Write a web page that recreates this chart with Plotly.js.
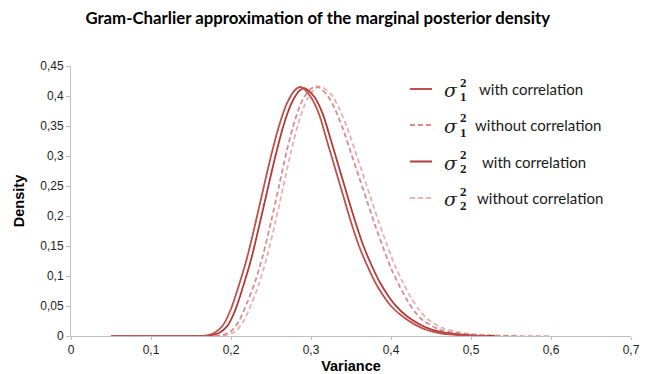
<!DOCTYPE html>
<html>
<head>
<meta charset="utf-8">
<script src="https://cdn.plot.ly/plotly-3.0.1.min.js"></script>
<style>html,body{margin:0;padding:0;background:#fff;}#chart{width:651px;height:374px;}</style>
</head>
<body>
<div id="chart"></div>
<script>
// Data
var s1WithX = [0.05, 0.10, 0.15, 0.165, 0.17, 0.18, 0.19, 0.20, 0.21, 0.22, 0.23, 0.24, 0.25, 0.26, 0.27, 0.28, 0.286, 0.29, 0.30, 0.31, 0.32, 0.33, 0.34, 0.35, 0.36, 0.37, 0.38, 0.39, 0.40, 0.415, 0.43, 0.445, 0.46, 0.48, 0.50, 0.52];
var s1WithY = [0, 0, 0, 0, 0.001, 0.006, 0.018, 0.045, 0.085, 0.13, 0.185, 0.243, 0.30, 0.35, 0.388, 0.41, 0.415, 0.413, 0.398, 0.37, 0.325, 0.28, 0.235, 0.19, 0.15, 0.118, 0.09, 0.068, 0.05, 0.032, 0.019, 0.01, 0.005, 0.002, 0.0005, 0];

var s2WithX = [0.05, 0.10, 0.15, 0.17, 0.175, 0.185, 0.195, 0.205, 0.215, 0.225, 0.235, 0.245, 0.255, 0.265, 0.275, 0.285, 0.291, 0.295, 0.305, 0.315, 0.325, 0.335, 0.345, 0.355, 0.365, 0.375, 0.385, 0.395, 0.405, 0.42, 0.435, 0.45, 0.465, 0.485, 0.505, 0.53];
var s2WithY = [0, 0, 0, 0, 0.001, 0.005, 0.016, 0.042, 0.082, 0.127, 0.182, 0.24, 0.297, 0.348, 0.386, 0.408, 0.413, 0.411, 0.397, 0.369, 0.326, 0.281, 0.236, 0.192, 0.152, 0.12, 0.092, 0.07, 0.052, 0.033, 0.02, 0.011, 0.006, 0.0025, 0.0007, 0];

var s1WithoutX = [0.05, 0.10, 0.15, 0.18, 0.19, 0.20, 0.21, 0.22, 0.23, 0.24, 0.25, 0.26, 0.27, 0.28, 0.29, 0.30, 0.306, 0.31, 0.32, 0.33, 0.34, 0.35, 0.36, 0.37, 0.38, 0.39, 0.40, 0.41, 0.42, 0.43, 0.44, 0.46, 0.48, 0.50, 0.53, 0.56];
var s1WithoutY = [0, 0, 0, 0, 0.002, 0.008, 0.025, 0.055, 0.09, 0.135, 0.19, 0.25, 0.31, 0.36, 0.395, 0.412, 0.416, 0.414, 0.402, 0.378, 0.345, 0.305, 0.265, 0.225, 0.185, 0.148, 0.113, 0.085, 0.06, 0.04, 0.026, 0.011, 0.005, 0.002, 0.0005, 0];

var s2WithoutX = [0.05, 0.10, 0.15, 0.185, 0.195, 0.205, 0.215, 0.225, 0.235, 0.245, 0.255, 0.265, 0.275, 0.285, 0.295, 0.305, 0.311, 0.315, 0.325, 0.335, 0.345, 0.355, 0.365, 0.375, 0.385, 0.395, 0.405, 0.415, 0.425, 0.435, 0.445, 0.465, 0.49, 0.52, 0.56, 0.60];
var s2WithoutY = [0, 0, 0, 0, 0.002, 0.007, 0.023, 0.052, 0.087, 0.132, 0.187, 0.247, 0.307, 0.358, 0.394, 0.412, 0.416, 0.414, 0.403, 0.38, 0.348, 0.309, 0.269, 0.229, 0.189, 0.152, 0.117, 0.089, 0.064, 0.044, 0.029, 0.013, 0.005, 0.0015, 0.0003, 0];

var legendSubs = ["1", "1", "2", "2"];
var legendTexts = ["with correlation", "without correlation", "with correlation", "without correlation"];

var colS1W = "#c0504d", colS2W = "#b03c3a", colS1WO = "#d98c8b", colS2WO = "#e8b0b0";
var colors = [colS1W, colS1WO, colS2W, colS2WO];
var dashes = ["solid", "5px,3px", "solid", "5px,3px"];

function tr(x, y, c, d) {
  return {x: x, y: y, type: "scatter", mode: "lines", showlegend: false, hoverinfo: "skip",
    line: {color: c, width: 1.8, dash: d, shape: "spline", smoothing: 0.8}};
}
var data = [
  tr(s2WithoutX, s2WithoutY, colS2WO, "5px,3px"),
  tr(s1WithoutX, s1WithoutY, colS1WO, "5px,3px"),
  tr(s2WithX, s2WithY, colS2W, "solid"),
  tr(s1WithX, s1WithY, colS1W, "solid")
];

// custom legend
var L = 71, R = 631, T = 66, B = 336;
function px(x) { return (x - L) / (R - L); }
function py(y) { return (B - y) / (B - T); }
var rowY = [89, 125, 161.5, 198];
var textX = [477, 473, 480, 475];
var shapes = [], annotations = [];
for (var i = 0; i < 4; i++) {
  shapes.push({type: "line", xref: "paper", yref: "paper", x0: px(410), x1: px(432), y0: py(rowY[i]), y1: py(rowY[i]),
    line: {color: colors[i], width: 2, dash: dashes[i]}});
  annotations.push({xref: "paper", yref: "paper", x: px(451), y: py(rowY[i] + 1), xanchor: "center", yanchor: "middle",
    text: "<i>σ</i>", showarrow: false, font: {family: "DejaVu Serif", size: 19, color: "#1a1a1a"}});
  annotations.push({xref: "paper", yref: "paper", x: px(458), y: py(rowY[i] - 7), xanchor: "left", yanchor: "middle",
    text: "<b>2</b>", showarrow: false, font: {family: "Liberation Serif", size: 13, color: "#1a1a1a"}});
  annotations.push({xref: "paper", yref: "paper", x: px(458), y: py(rowY[i] + 7), xanchor: "left", yanchor: "middle",
    text: "<b>" + legendSubs[i] + "</b>", showarrow: false, font: {family: "Liberation Serif", size: 13, color: "#1a1a1a"}});
  annotations.push({xref: "paper", yref: "paper", x: px(textX[i]), y: py(rowY[i]), xanchor: "left", yanchor: "middle",
    text: legendTexts[i], showarrow: false, font: {family: "Lato", size: 15, color: "#1a1a1a"}});
}

var layout = {
  width: 651, height: 374,
  margin: {l: L, r: 651 - R, t: T, b: 374 - B, pad: 0},
  paper_bgcolor: "#fff", plot_bgcolor: "#fff",
  separators: ", ",
  title: {text: "<b>Gram-Charlier approximation of the marginal posterior density</b>",
    font: {family: "Lato", size: 16.8, color: "#000"}, x: 0.488, xanchor: "center", y: 0.952, yanchor: "middle"},
  xaxis: {range: [0, 0.7], dtick: 0.1, tick0: 0, showgrid: false, zeroline: false,
    showline: true, linecolor: "#bfbfbf", linewidth: 1, ticks: "outside", ticklen: 3, tickcolor: "#bfbfbf",
    tickfont: {family: "Liberation Sans", size: 12, color: "#222"},
    title: {text: "<b>Variance</b>", font: {family: "Liberation Sans", size: 14.5, color: "#000"}, standoff: 4}},
  yaxis: {range: [0, 0.45], dtick: 0.05, tick0: 0, showgrid: false, zeroline: false,
    showline: true, linecolor: "#bfbfbf", linewidth: 1, ticks: "outside", ticklen: 4, tickcolor: "#bfbfbf",
    tickfont: {family: "Liberation Sans", size: 12, color: "#222"},
    title: {text: "<b>Density</b>", font: {family: "Liberation Sans", size: 14.5, color: "#000"}, standoff: 12}},
  shapes: shapes,
  annotations: annotations
};
Plotly.newPlot("chart", data, layout, {displayModeBar: false, staticPlot: true});
</script>
</body>
</html>
